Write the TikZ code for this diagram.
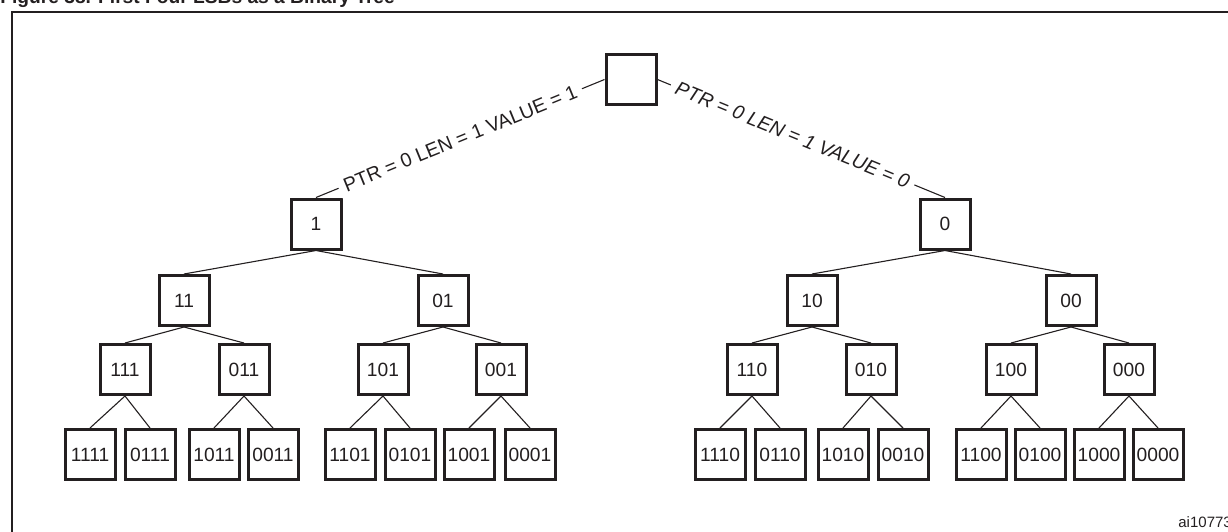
\documentclass[tikz,border=0pt]{standalone}
\usepackage{fontspec}
\setmainfont{Liberation Sans}
\definecolor{cInk}{HTML}{231F20}
\tikzset{
  bit/.style   = {rectangle, draw=cInk, fill=white, line width=1.5pt, minimum size=25pt,
                  inner sep=1pt, text=cInk, font=\fontsize{9.6}{10}\selectfont},
  link/.style  = {draw=cInk, line width=0.55pt},
  lab/.style   = {fill=white, inner sep=3pt, sloped, text=cInk, font=\fontsize{9.8}{11}\selectfont},
  frame/.style = {draw=cInk, line width=0.9pt},
}

\begin{document}
\begin{tikzpicture}[x=0.5pt, y=-0.5pt]
  \useasboundingbox (0,0) rectangle (1228,531);
  \draw[frame] (12,12) rectangle (1240,545);
  \node[anchor=base west, inner sep=0pt, text=cInk, font=\fontsize{9.6}{11}\selectfont\bfseries]
    (title) at (0,3) {Figure 38. First Four LSBs as a Binary Tree};
  \node[anchor=west, inner sep=0pt, text=cInk, font=\fontsize{7.5}{8}\selectfont]
    (figid) at (1178,522) {ai10773};

  \node[bit] (troot) at (631,79.5) {};

  \node[bit] (t1) at (316,224) {1};
  \node[bit] (t0) at (945,224) {0};

  \node[bit] (t11) at (184,300.5) {11};
  \node[bit] (t01) at (443,300.5) {01};
  \node[bit] (t10) at (812,300.5) {10};
  \node[bit] (t00) at (1071,300.5) {00};

  \node[bit] (t111) at (125,369.5) {111};
  \node[bit] (t011) at (244,369.5) {011};
  \node[bit] (t101) at (383,369.5) {101};
  \node[bit] (t001) at (501,369.5) {001};
  \node[bit] (t110) at (752,369.5) {110};
  \node[bit] (t010) at (871,369.5) {010};
  \node[bit] (t100) at (1011,369.5) {100};
  \node[bit] (t000) at (1129,369.5) {000};

  \node[bit] (t1111) at (90,454.5) {1111};
  \node[bit] (t0111) at (150,454.5) {0111};
  \node[bit] (t1011) at (214,454.5) {1011};
  \node[bit] (t0011) at (273,454.5) {0011};
  \node[bit] (t1101) at (350,454.5) {1101};
  \node[bit] (t0101) at (410,454.5) {0101};
  \node[bit] (t1001) at (469,454.5) {1001};
  \node[bit] (t0001) at (530,454.5) {0001};
  \node[bit] (t1110) at (720,454.5) {1110};
  \node[bit] (t0110) at (780,454.5) {0110};
  \node[bit] (t1010) at (843,454.5) {1010};
  \node[bit] (t0010) at (903,454.5) {0010};
  \node[bit] (t1100) at (981,454.5) {1100};
  \node[bit] (t0100) at (1040,454.5) {0100};
  \node[bit] (t1000) at (1099,454.5) {1000};
  \node[bit] (t0000) at (1158,454.5) {0000};

  \draw[link] (troot.west) -- node[lab] {PTR = 0 LEN = 1 VALUE = 1} (t1.north);
  \draw[link] (troot.east) -- node[lab, pos=0.47, font=\fontsize{9.8}{11}\selectfont\itshape]
    {PTR = 0 LEN = 1 VALUE = 0} (t0.north);

  \draw[link] (t1.south) -- (t11.north);  \draw[link] (t1.south) -- (t01.north);
  \draw[link] (t0.south) -- (t10.north);  \draw[link] (t0.south) -- (t00.north);

  \draw[link] (t11.south) -- (t111.north);  \draw[link] (t11.south) -- (t011.north);
  \draw[link] (t01.south) -- (t101.north);  \draw[link] (t01.south) -- (t001.north);
  \draw[link] (t10.south) -- (t110.north);  \draw[link] (t10.south) -- (t010.north);
  \draw[link] (t00.south) -- (t100.north);  \draw[link] (t00.south) -- (t000.north);

  \draw[link] (t111.south) -- (t1111.north);  \draw[link] (t111.south) -- (t0111.north);
  \draw[link] (t011.south) -- (t1011.north);  \draw[link] (t011.south) -- (t0011.north);
  \draw[link] (t101.south) -- (t1101.north);  \draw[link] (t101.south) -- (t0101.north);
  \draw[link] (t001.south) -- (t1001.north);  \draw[link] (t001.south) -- (t0001.north);
  \draw[link] (t110.south) -- (t1110.north);  \draw[link] (t110.south) -- (t0110.north);
  \draw[link] (t010.south) -- (t1010.north);  \draw[link] (t010.south) -- (t0010.north);
  \draw[link] (t100.south) -- (t1100.north);  \draw[link] (t100.south) -- (t0100.north);
  \draw[link] (t000.south) -- (t1000.north);  \draw[link] (t000.south) -- (t0000.north);
\end{tikzpicture}
\end{document}
